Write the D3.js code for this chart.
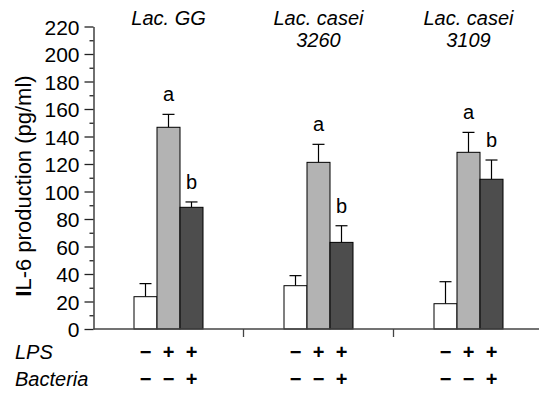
<!DOCTYPE html>
<html lang="en">
<head>
  <meta charset="utf-8">
  <title>IL-6 production</title>
  <script src="https://d3js.org/d3.v7.min.js"></script>
  <style>
  body { margin: 0; background: #fff; }
  text { font-family: Arial, "Liberation Sans", sans-serif; fill: #000; }
  .bar { stroke: #000; stroke-width: 1; }
  .sign { font-size: 20px; font-weight: bold; }
  </style>
</head>
<body>
  <script>
  var width = 539;
  var height = 394;

  // data
  var groups = ["Lac. GG", "Lac. casei 3260", "Lac. casei 3109"];
  var titleLines = [["Lac. GG"], ["Lac. casei", "3260"], ["Lac. casei", "3109"]];
  var treatments = ["control", "LPS", "LPS+Bacteria"];
  var means = [[23.5, 146.7, 88.5], [31.5, 121.2, 63], [18.4, 128.5, 108.9]];
  var errTops = [[33, 156.1, 92.4], [38.8, 134.3, 75.1], [34.4, 143, 122.9]];
  var letters = [["", "a", "b"], ["", "a", "b"], ["", "a", "b"]];
  var lpsSigns = ["\u2212", "+", "+"];
  var bacSigns = ["\u2212", "\u2212", "+"];
  var fills = ["#ffffff", "#b3b3b3", "#4d4d4d"];

  var svg = d3.select("body")
    .append("svg")
    .attr("width", width)
    .attr("height", height);

  var y = d3.scaleLinear()
    .domain([0, 220])
    .range([329, 26.5]);

  var x = d3.scaleBand()
    .domain(groups)
    .range([93.5, 543.5]);

  var xSub = d3.scaleBand()
    .domain(treatments)
    .range([-34.5, 34.5]);

  // y axis, major and minor ticks
  var yAxis = svg.append("g")
    .attr("transform", "translate(93.5,0)")
    .call(d3.axisLeft(y).tickValues(d3.range(0, 221, 20)).tickSize(9).tickSizeOuter(0).tickPadding(5));
  yAxis.selectAll("text").style("font-size", "21px").attr("dy", "0.36em");
  yAxis.select(".domain").attr("stroke", "#222").attr("stroke-width", 1.3);
  yAxis.selectAll(".tick line").attr("stroke", "#222").attr("stroke-width", 1.3);

  var yMinor = svg.append("g")
    .attr("transform", "translate(93.5,0)")
    .call(d3.axisLeft(y).tickValues(d3.range(10, 220, 20)).tickSize(4).tickSizeOuter(0).tickFormat(""));
  yMinor.select(".domain").remove();
  yMinor.selectAll(".tick line").attr("stroke", "#222").attr("stroke-width", 1.3);

  svg.append("text")
    .attr("transform", "translate(31," + 186 + ") rotate(-90)")
    .attr("text-anchor", "middle")
    .style("font-size", "22px")
    .html('<tspan font-weight="bold">I</tspan>L-6 production (pg/ml)');

  // bars
  var g = svg.selectAll(".group")
    .data(groups)
    .enter().append("g")
    .attr("class", "group")
    .attr("transform", function(d) { return "translate(" + (x(d) + x.bandwidth() / 2) + ",0)"; });

  g.each(function(d, gi) {
    var sel = d3.select(this);
    treatments.forEach(function(t, ti) {
      var cx = xSub(t) + xSub.bandwidth() / 2;
      // error bar
      sel.append("line")
        .attr("x1", cx).attr("x2", cx)
        .attr("y1", y(means[gi][ti])).attr("y2", y(errTops[gi][ti]))
        .attr("stroke", "#000").attr("stroke-width", 1.2);
      sel.append("line")
        .attr("x1", cx - 6).attr("x2", cx + 6)
        .attr("y1", y(errTops[gi][ti])).attr("y2", y(errTops[gi][ti]))
        .attr("stroke", "#000").attr("stroke-width", 1.2);
      sel.append("rect")
        .attr("class", "bar")
        .attr("x", xSub(t))
        .attr("width", xSub.bandwidth())
        .attr("y", y(means[gi][ti]))
        .attr("height", y(0) - y(means[gi][ti]))
        .attr("fill", fills[ti]);
      if (letters[gi][ti]) {
        sel.append("text")
          .attr("x", cx)
          .attr("y", y(errTops[gi][ti]) - 13)
          .attr("text-anchor", "middle")
          .style("font-size", "20px")
          .text(letters[gi][ti]);
      }
      sel.append("text")
        .attr("class", "sign")
        .attr("x", cx).attr("y", 359)
        .attr("text-anchor", "middle")
        .text(lpsSigns[ti]);
      sel.append("text")
        .attr("class", "sign")
        .attr("x", cx).attr("y", 386)
        .attr("text-anchor", "middle")
        .text(bacSigns[ti]);
    });
    // group title
    titleLines[gi].forEach(function(line, li) {
      sel.append("text")
        .attr("x", 0).attr("y", 25 + li * 22)
        .attr("text-anchor", "middle")
        .style("font-size", "20px")
        .style("font-style", "italic")
        .text(line);
    });
  });

  // x axis line and group separators
  svg.append("line")
    .attr("x1", 93.5).attr("x2", width)
    .attr("y1", y(0)).attr("y2", y(0))
    .attr("stroke", "#444").attr("stroke-width", 1.3);

  svg.selectAll(".sep")
    .data(groups.slice(0, 2))
    .enter().append("line")
    .attr("class", "sep")
    .attr("x1", function(d) { return x(d) + x.bandwidth(); })
    .attr("x2", function(d) { return x(d) + x.bandwidth(); })
    .attr("y1", y(0)).attr("y2", y(0) + 8)
    .attr("stroke", "#444").attr("stroke-width", 1.3);

  // row labels
  svg.append("text").attr("x", 15).attr("y", 359)
    .style("font-size", "20px").style("font-style", "italic").text("LPS");
  svg.append("text").attr("x", 15).attr("y", 386)
    .style("font-size", "20px").style("font-style", "italic").text("Bacteria");
  </script>
</body>
</html>
